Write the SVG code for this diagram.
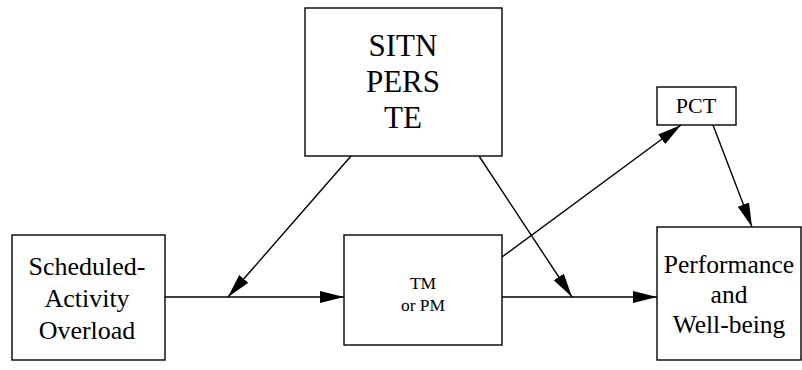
<svg xmlns="http://www.w3.org/2000/svg" width="802" height="370" viewBox="0 0 802 370">
<style>
.box{fill:#fff;stroke:#000;stroke-width:1.4}
.t{fill:#000;text-anchor:middle}
.c{stroke:#000;stroke-width:1.4;fill:none}
</style>
<defs>
<marker id="ah" markerWidth="24" markerHeight="12" refX="24" refY="6" orient="auto" markerUnits="userSpaceOnUse">
<path d="M0,0 L24,6 L0,12 Z" fill="#000"/>
</marker>
</defs>
<rect width="802" height="370" fill="#fff"/>
<g font-family="Liberation Serif, serif">
<g id="sitn">
<rect class="box" x="305" y="8" width="197" height="148"/>
<text class="t" x="403" y="56" font-size="31">SITN</text>
<text class="t" x="403" y="92" font-size="31">PERS</text>
<text class="t" x="403" y="128" font-size="31">TE</text>
</g>
<g id="sao">
<rect class="box" x="12" y="235" width="153" height="125"/>
<text class="t" x="87" y="275" font-size="26">Scheduled-</text>
<text class="t" x="87" y="307" font-size="26">Activity</text>
<text class="t" x="87" y="339" font-size="26">Overload</text>
</g>
<g id="tm">
<rect class="box" x="344" y="235" width="158" height="110"/>
<text class="t" x="423" y="289" font-size="17.5">TM</text>
<text class="t" x="423" y="311" font-size="17.5">or PM</text>
</g>
<g id="pct">
<rect class="box" x="657" y="87" width="79" height="38"/>
<text class="t" x="696" y="113" font-size="22">PCT</text>
</g>
<g id="perf">
<rect class="box" x="657" y="227" width="144" height="133"/>
<text class="t" x="729" y="273" font-size="25.5">Performance</text>
<text class="t" x="729" y="303" font-size="25.5">and</text>
<text class="t" x="729" y="333" font-size="25.5">Well-being</text>
</g>
</g>
<g id="connectors">
<line class="c" x1="165" y1="297" x2="344" y2="297" marker-end="url(#ah)"/>
<line class="c" x1="351" y1="156" x2="228" y2="297" marker-end="url(#ah)"/>
<line class="c" x1="502" y1="297" x2="657" y2="297" marker-end="url(#ah)"/>
<line class="c" x1="479" y1="156" x2="572" y2="297" marker-end="url(#ah)"/>
<line class="c" x1="502" y1="257" x2="681" y2="125" marker-end="url(#ah)"/>
<line class="c" x1="713" y1="125" x2="752" y2="227" marker-end="url(#ah)"/>
</g>
</svg>
